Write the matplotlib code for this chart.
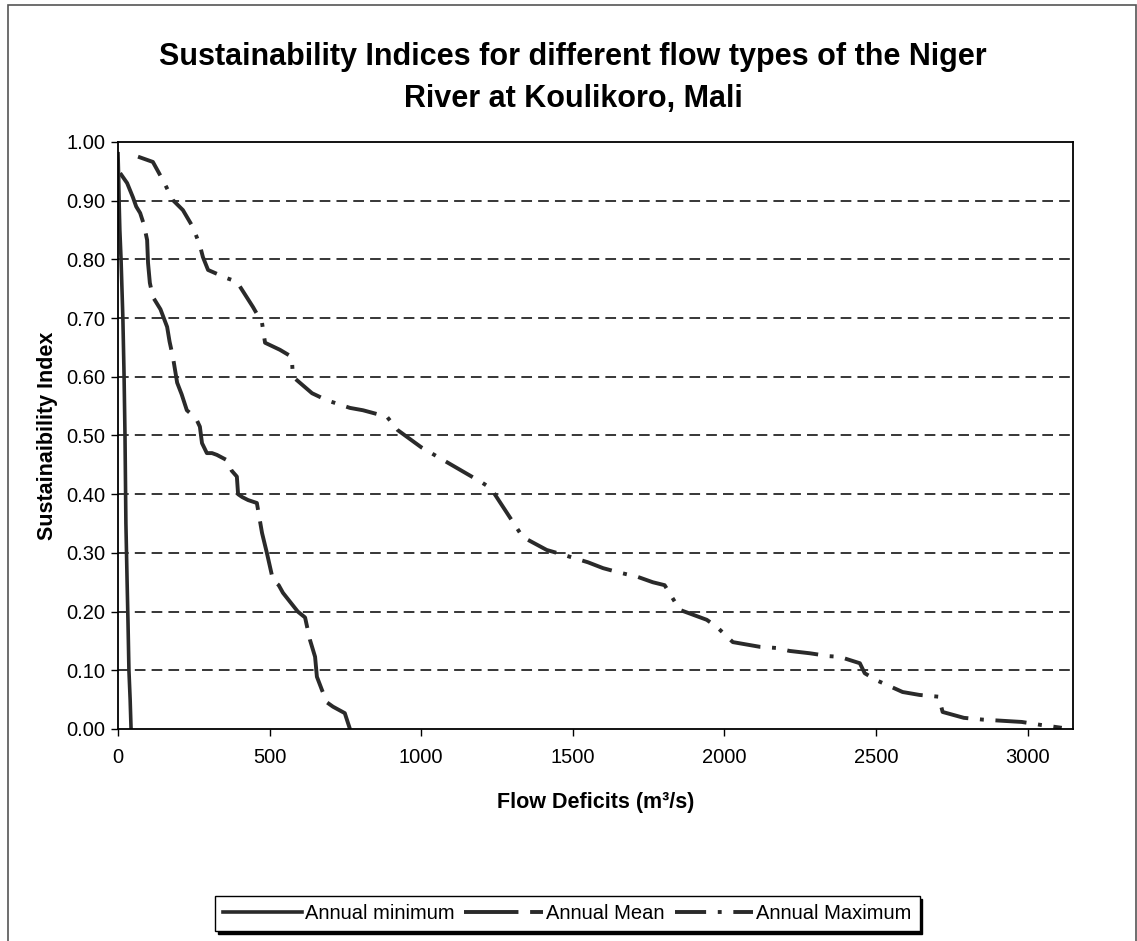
import matplotlib
matplotlib.use("Agg")
import matplotlib.pyplot as plt
from matplotlib.patches import Rectangle

plt.rcParams['font.family'] = ['Liberation Sans', 'DejaVu Sans']

# ---- data ----
min_x = [0, 2, 4, 6, 10, 16, 20, 23, 26, 30, 33, 36, 40, 43]
min_y = [0.98, 0.94, 0.89, 0.85, 0.80, 0.70, 0.60, 0.50, 0.35, 0.25, 0.18, 0.10, 0.05, 0.00]

mean_x = [7, 30, 49, 60, 73, 85, 96, 99, 105, 115, 140, 162, 170, 181, 195,
          210, 227, 245, 260, 270, 277, 293, 310, 326, 359, 375, 392, 396, 410,
          429, 458, 475, 491, 511, 530, 544, 570, 593, 617, 633, 650, 656, 673,
          690, 709, 748, 765]
mean_y = [0.947, 0.93, 0.906, 0.89, 0.879, 0.86, 0.833, 0.794, 0.76, 0.736,
          0.715, 0.685, 0.66, 0.634, 0.59, 0.57, 0.543, 0.535, 0.526, 0.515,
          0.487, 0.47, 0.47, 0.467, 0.458, 0.44, 0.43, 0.40, 0.395, 0.39,
          0.385, 0.334, 0.30, 0.254, 0.245, 0.232, 0.215, 0.20, 0.19, 0.152,
          0.123, 0.089, 0.066, 0.045, 0.038, 0.027, 0.00]

max_x = [66, 115, 148, 181, 214, 247, 270, 280, 297, 359, 392, 445, 475, 485,
         534, 573, 577, 640, 689, 765, 808, 887, 923, 1000, 1100, 1200, 1230,
         1259, 1335, 1414, 1474, 1550, 1600, 1650, 1715, 1764, 1803, 1853, 1942,
         1975, 2028, 2117, 2172, 2215, 2282, 2347, 2380, 2447, 2463, 2502, 2588,
         2644, 2707, 2720, 2790, 2852, 2981, 3043, 3113]
max_y = [0.975, 0.966, 0.935, 0.901, 0.884, 0.855, 0.824, 0.804, 0.782, 0.768,
         0.762, 0.719, 0.692, 0.658, 0.646, 0.634, 0.60, 0.572, 0.56, 0.547,
         0.543, 0.532, 0.509, 0.48, 0.45, 0.42, 0.41, 0.387, 0.327, 0.305,
         0.296, 0.284, 0.274, 0.267, 0.259, 0.25, 0.245, 0.203, 0.186, 0.174,
         0.148, 0.14, 0.138, 0.133, 0.129, 0.124, 0.123, 0.112, 0.095, 0.083,
         0.063, 0.058, 0.055, 0.029, 0.019, 0.016, 0.012, 0.007, 0.002]

x_ticks = [0, 500, 1000, 1500, 2000, 2500, 3000]
y_ticks = [0.0, 0.1, 0.2, 0.3, 0.4, 0.5, 0.6, 0.7, 0.8, 0.9, 1.0]

line_col = "#2a2a2a"

fig = plt.figure(figsize=(11.37, 9.41), dpi=100)
ax = fig.add_axes([0.1038, 0.2253, 0.8399, 0.6238])

ax.plot(min_x, min_y, c=line_col, lw=2.6, label="Annual minimum")
ax.plot(mean_x, mean_y, c=line_col, lw=2.8, dashes=(14, 3), label="Annual Mean")
ax.plot(max_x, max_y, c=line_col, lw=2.8, dashes=(8, 3, 1, 3), label="Annual Maximum")

for yv in y_ticks[1:-1]:
    ax.axhline(yv, c="black", lw=1.1, dashes=(7, 4), zorder=0)

ax.set_xlim(0, 3150)
ax.set_ylim(0, 1.0)
ax.set_xticks(x_ticks)
ax.set_yticks(y_ticks)
ax.set_yticklabels([f"{v:.2f}" for v in y_ticks])
ax.tick_params(direction="out", length=5, width=1, labelsize=14.5, colors="black")
ax.tick_params(axis="x", pad=9)
ax.tick_params(axis="y", pad=4)
for s in ax.spines.values():
    s.set_linewidth(1.3)
    s.set_color("black")

ax.set_xlabel("Flow Deficits (m³/s)", fontsize=15.5, fontweight="bold", labelpad=18)
ax.set_ylabel("Sustainaibility Index", fontsize=15.5, fontweight="bold", labelpad=6)

fig.text(0.504, 0.917, "Sustainability Indices for different flow types of the Niger\nRiver at Koulikoro, Mali",
         ha="center", va="center", fontsize=22, fontweight="bold", linespacing=1.5)

leg = fig.legend(loc="center", bbox_to_anchor=(0.499, 0.029), ncol=3, fontsize=14.5,
                 frameon=True, fancybox=False, edgecolor="black", handlelength=3.9,
                 handletextpad=0.15, columnspacing=0.5, borderpad=0.4,
                 shadow={"color": "black", "alpha": 1.0})
leg.get_frame().set_linewidth(1.0)

# chart area border
fig.patches.append(Rectangle((8 / 1137, -0.01), 1128 / 1137, 1 - 5 / 941 + 0.01,
                             transform=fig.transFigure, fill=False, ec="#555555", lw=1.2))

plt.savefig("out.png", dpi=100)
plt.close()
